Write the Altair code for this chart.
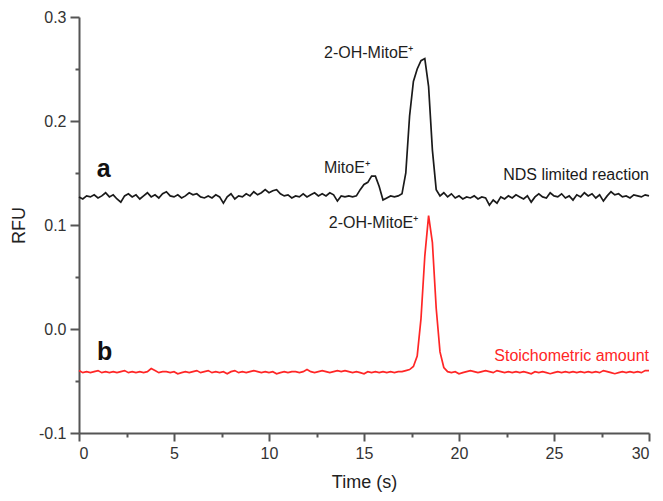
import altair as alt
import pandas as pd

STEP = 0.2  # sampling interval of the traces (s)

# Trace a: "NDS limited reaction" (black), one value every 0.2 s from 0 to 30 s
trace_a = [
    0.127, 0.125, 0.128, 0.127, 0.129, 0.126, 0.128, 0.131, 0.127, 0.129,
    0.125, 0.122, 0.128, 0.130, 0.127, 0.129, 0.125, 0.128, 0.131, 0.127,
    0.129, 0.126, 0.130, 0.132, 0.128, 0.127, 0.129, 0.126, 0.128, 0.131,
    0.129, 0.130, 0.127, 0.126, 0.128, 0.126, 0.129, 0.127, 0.121, 0.127,
    0.130, 0.125, 0.128, 0.127, 0.130, 0.128, 0.132, 0.129, 0.131, 0.134,
    0.131, 0.133, 0.134, 0.130, 0.128, 0.129, 0.126, 0.128, 0.127, 0.130,
    0.127, 0.129, 0.131, 0.128, 0.130, 0.128, 0.131, 0.129, 0.123, 0.128,
    0.127, 0.128, 0.127, 0.128, 0.134, 0.139, 0.141, 0.147, 0.147, 0.137,
    0.124, 0.126, 0.128, 0.127, 0.128, 0.130, 0.150, 0.205, 0.238, 0.250,
    0.258, 0.260, 0.233, 0.172, 0.134, 0.128, 0.131, 0.127, 0.130, 0.126,
    0.128, 0.125, 0.127, 0.126, 0.128, 0.125, 0.127, 0.126, 0.119, 0.124,
    0.121, 0.127, 0.125, 0.128, 0.126, 0.129, 0.127, 0.125, 0.128, 0.122,
    0.127, 0.130, 0.127, 0.126, 0.131, 0.128, 0.127, 0.130, 0.126, 0.128,
    0.124, 0.129, 0.127, 0.131, 0.128, 0.130, 0.126, 0.129, 0.123, 0.128,
    0.132, 0.129, 0.130, 0.127, 0.128, 0.126, 0.129, 0.128, 0.127, 0.129,
    0.128,
]

# Trace b: "Stoichometric amount" (red)
trace_b = [
    -0.040, -0.042, -0.041, -0.042, -0.041, -0.040, -0.042, -0.041, -0.042, -0.041,
    -0.042, -0.041, -0.040, -0.042, -0.041, -0.042, -0.041, -0.042, -0.041, -0.038,
    -0.040, -0.042, -0.041, -0.041, -0.042, -0.041, -0.043, -0.042, -0.041, -0.042,
    -0.041, -0.040, -0.042, -0.041, -0.040, -0.042, -0.041, -0.042, -0.041, -0.043,
    -0.041, -0.040, -0.042, -0.041, -0.042, -0.041, -0.040, -0.041, -0.042, -0.041,
    -0.042, -0.041, -0.043, -0.042, -0.041, -0.042, -0.041, -0.041, -0.042, -0.041,
    -0.039, -0.041, -0.042, -0.041, -0.040, -0.041, -0.042, -0.041, -0.040, -0.041,
    -0.040, -0.041, -0.042, -0.041, -0.042, -0.043, -0.041, -0.042, -0.041, -0.042,
    -0.041, -0.042, -0.041, -0.042, -0.041, -0.041, -0.040, -0.039, -0.036, -0.026,
    0.010, 0.070, 0.109, 0.083, 0.020, -0.022, -0.037, -0.041, -0.042, -0.041,
    -0.043, -0.042, -0.041, -0.040, -0.041, -0.042, -0.041, -0.040, -0.041, -0.042,
    -0.040, -0.041, -0.042, -0.041, -0.042, -0.041, -0.042, -0.041, -0.042, -0.043,
    -0.041, -0.042, -0.041, -0.042, -0.043, -0.042, -0.041, -0.042, -0.041, -0.042,
    -0.041, -0.042, -0.041, -0.042, -0.041, -0.042, -0.041, -0.042, -0.040, -0.041,
    -0.042, -0.043, -0.042, -0.041, -0.042, -0.041, -0.042, -0.041, -0.042, -0.040,
    -0.040,
]

times = [round(i * STEP, 1) for i in range(len(trace_a))]

series_names = ["a", "b"]
series_colors = ["#1a1a1a", "#ff2626"]

x_ticks = [0, 2.5, 5, 7.5, 10, 12.5, 15, 17.5, 20, 22.5, 25, 27.5, 30]
y_ticks = [-0.1, -0.05, 0.0, 0.05, 0.1, 0.15, 0.2, 0.25, 0.3]

# Peak labels (centered)
peak_text = ["2-OH-MitoE\u207a", "MitoE\u207a", "2-OH-MitoE\u207a"]
peak_x = [15.25, 14.1, 15.5]
peak_y = [0.261, 0.150, 0.097]

# Trace captions (right aligned)
cap_text = ["NDS limited reaction", "Stoichometric amount"]
cap_x = [30.0, 30.0]
cap_y = [0.1436, -0.0303]
cap_series = ["a", "b"]

# Panel letters
panel_text = ["a", "b"]
panel_x = [1.3, 1.35]
panel_y = [0.1465, -0.0294]

df = pd.DataFrame({
    "t": times + times,
    "rfu": trace_a + trace_b,
    "series": ["a"] * len(times) + ["b"] * len(times),
})
peaks = pd.DataFrame({"t": peak_x, "rfu": peak_y, "label": peak_text})
caps = pd.DataFrame({"t": cap_x, "rfu": cap_y, "label": cap_text, "series": cap_series})
panels = pd.DataFrame({"t": panel_x, "rfu": panel_y, "label": panel_text})

x_enc = alt.X(
    "t:Q",
    scale=alt.Scale(domain=[0, 30], nice=False, zero=False),
    axis=alt.Axis(
        title="Time (s)",
        values=x_ticks,
        labelExpr="datum.value % 5 === 0 ? datum.label : ''",
        tickSize={"condition": {"test": "datum.value % 5 === 0", "value": 8}, "value": 4},
        labelPadding=4,
        titlePadding=12,
        grid=False,
    ),
)
y_enc = alt.Y(
    "rfu:Q",
    scale=alt.Scale(domain=[-0.1, 0.3], nice=False, zero=False),
    axis=alt.Axis(
        title="RFU",
        values=y_ticks,
        labelExpr="abs(datum.value*10 - round(datum.value*10)) < 0.001 ? replace(format(datum.value, '.1f'), '\u2212', '-') : ''",
        tickSize={"condition": {"test": "abs(datum.value*10 - round(datum.value*10)) < 0.001", "value": 9}, "value": 4},
        labelPadding=4,
        titlePadding=10,
        grid=False,
    ),
)
color_scale = alt.Scale(domain=series_names, range=series_colors)

lines = alt.Chart(df).mark_line(strokeWidth=1.7).encode(
    x=x_enc, y=y_enc,
    color=alt.Color("series:N", scale=color_scale, legend=None),
)

peak_labels = alt.Chart(peaks).mark_text(
    align="center", baseline="alphabetic", font="Liberation Sans", fontSize=16, color="#1e1e1e"
).encode(x=x_enc, y=y_enc, text="label:N")

cap_labels = alt.Chart(caps).mark_text(
    align="right", baseline="alphabetic", font="Liberation Sans", fontSize=16
).encode(
    x=x_enc, y=y_enc, text="label:N",
    color=alt.Color("series:N", scale=color_scale, legend=None),
)

panel_labels = alt.Chart(panels).mark_text(
    align="center", baseline="alphabetic", font="Liberation Sans", fontSize=25,
    fontWeight="bold", color="#111111"
).encode(x=x_enc, y=y_enc, text="label:N")

chart = (
    alt.layer(lines, peak_labels, cap_labels, panel_labels)
    .properties(
        width=570,
        height=416,
        autosize=alt.AutoSizeParams(type="none"),
        padding={"left": 71, "top": 9, "right": 6, "bottom": 62},
    )
    .configure_view(strokeWidth=0)
    .configure_axis(
        domainColor="#555555",
        domainWidth=2,
        tickColor="#555555",
        tickWidth=2,
        labelColor="#333333",
        labelFont="Liberation Sans",
        labelFontSize=16,
        titleFont="Liberation Sans",
        titleFontSize=18,
        titleFontWeight="normal",
        titleColor="#222222",
    )
)

chart.save("out.html", embed_options={"renderer": "svg", "actions": False})
